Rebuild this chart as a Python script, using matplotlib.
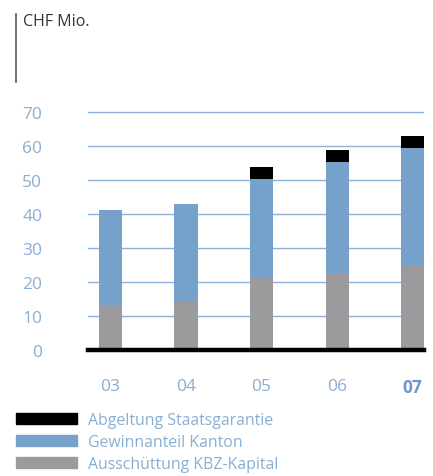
import matplotlib.pyplot as plt
from matplotlib.patches import Patch
import numpy as np

plt.rcParams["font.family"] = ["Open Sans", "DejaVu Sans"]

years = ["03", "04", "05", "06", "07"]
kapital = [12.8, 14.5, 21.1, 22.7, 25.0]    # Ausschüttung KBZ-Kapital
kanton = [28.3, 28.4, 29.1, 32.5, 34.3]     # Gewinnanteil Kanton
garantie = [0.0, 0.0, 3.5, 3.5, 3.5]        # Abgeltung Staatsgarantie
yticks = [0, 10, 20, 30, 40, 50, 60, 70]
legend_labels = ["Abgeltung Staatsgarantie", "Gewinnanteil Kanton", "Ausschüttung KBZ-Kapital"]

black = "#000000"
blue = "#75a1cb"
grey = "#9b9b9d"
tick_blue = "#8aaed3"
bold_blue = "#6d97c4"

W, H = 433, 477
fig = plt.figure(figsize=(W / 100, H / 100), dpi=100)
ax = fig.add_axes([88 / W, 126 / H, 336 / W, 71 * 3.406 / H])

x = np.arange(len(years))
bw = 0.305
ax.bar(x, kapital, bw, color=grey, zorder=3)
ax.bar(x, kanton, bw, bottom=kapital, color=blue, zorder=3)
bot2 = np.array(kapital) + np.array(kanton)
ax.bar(x, garantie, bw, bottom=bot2, color=black, zorder=3)

ax.set_xlim(-0.298, 4.152)
ax.set_ylim(0, 71)
for v in yticks[1:]:
    ax.axhline(v, color="#8cb0d6", lw=1.0, zorder=1)
ax.axhline(0, color="black", lw=3.2, zorder=4, clip_on=False)

for s in ax.spines.values():
    s.set_visible(False)
ax.set_yticks(yticks)
ax.set_yticklabels([str(v) for v in yticks])
ax.tick_params(axis="y", length=0, pad=33, labelsize=12.5, labelcolor=tick_blue)
ax.set_xticks(x)
ax.set_xticklabels(years)
ax.tick_params(axis="x", length=0, pad=20, labelsize=12.5, labelcolor=tick_blue)
last = ax.get_xticklabels()[-1]
last.set_fontweight("bold")
last.set_color(bold_blue)

# header
fig.text(23 / W, 1 - 22 / H, "CHF Mio.", fontsize=11.5, color="#333333", va="center", ha="left")
fig.add_artist(plt.Line2D([16 / W, 16 / W], [1 - 15 / H, 1 - 83 / H], color="#555555", lw=1.2))

handles = [Patch(color=c) for c in [black, blue, grey]]
fig.legend(handles, legend_labels, loc="upper left", bbox_to_anchor=(16 / W, 1 - 413 / H),
           frameon=False, fontsize=11.4, labelcolor=tick_blue, handlelength=3.85,
           handleheight=0.65, handletextpad=0.7, labelspacing=0.38, borderpad=0, borderaxespad=0)

fig.savefig("out.png", dpi=100)
